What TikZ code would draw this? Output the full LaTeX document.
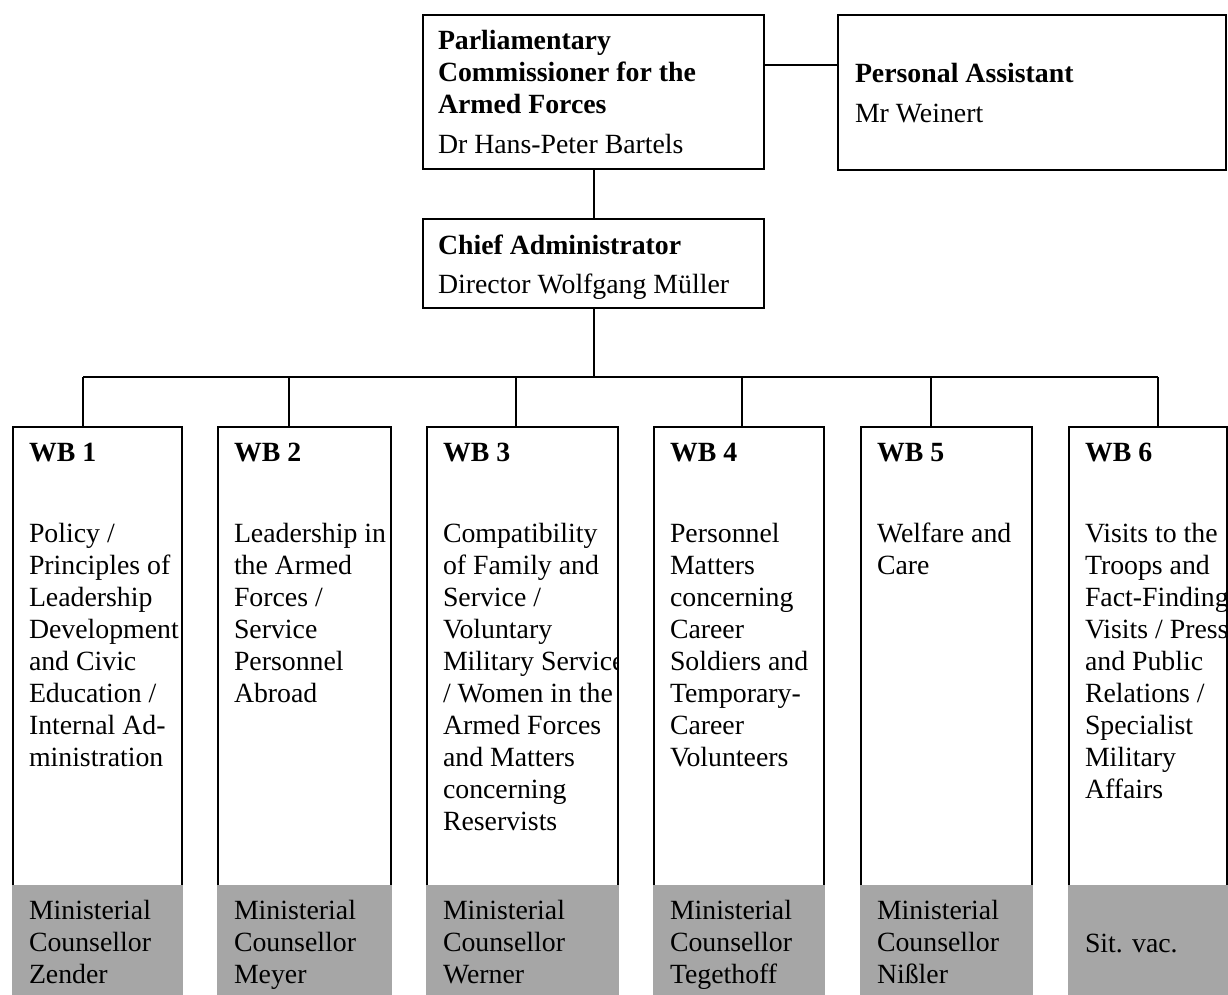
\documentclass[tikz,border=0pt]{standalone}
\usepackage{fontspec}
\setmainfont{Liberation Serif}
\definecolor{cellgray}{HTML}{A6A6A6}
\newcommand{\mylines}[1]{\begin{tabular}[t]{@{}l@{}}#1\end{tabular}}
\begin{document}
\begin{tikzpicture}[x=1pt,y=-1pt,line width=2pt,
  box/.style={draw, rectangle, inner sep=0pt, line width=2pt},
  graycell/.style={fill=cellgray, draw=none, rectangle, inner sep=0pt},
  txt/.style={anchor=base west, inner sep=0pt, font=\fontsize{27.8}{32}\selectfont},
  btxt/.style={anchor=base west, inner sep=0pt, font=\fontsize{27.8}{32}\selectfont\bfseries}]
\useasboundingbox (0,0) rectangle (1228,994);

% top level
\node[box, minimum width=341pt, minimum height=154pt] (parl) at (593.5,92) {};
\node[btxt] (parlT) at (437,49) {\mylines{Parliamentary\\Commissioner for the\\Armed Forces}};
\node[txt] (parlN) at (437,153) {Dr Hans-Peter Bartels};

\node[box, minimum width=388pt, minimum height=155pt] (pa) at (1032,92.5) {};
\node[btxt] (paT) at (854,82) {Personal Assistant};
\node[txt] (paN) at (854,122) {Mr Weinert};

\node[box, minimum width=341pt, minimum height=89pt] (chief) at (593.5,263.5) {};
\node[btxt] (chiefT) at (437,254) {Chief Administrator};
\node[txt] (chiefN) at (437,293) {Director Wolfgang Müller};

\coordinate (pc) at ([yshift=27pt]parl.east);
\draw (pc) -- (pc -| pa.west);
\draw (parl.south) -- (chief.north);

\coordinate (busL) at (83,377);
\coordinate (busR) at (1158,377);
\draw (chief.south) -- (chief.south |- busL);
\draw (busL) -- (busR);

% #1 name, #2 left, #3 right, #4 connector x, #5 heading, #6 body, #7 gray text, #8 gray baseline
\newcommand{\wbcol}[8]{%
  \begin{scope}
    \clip (#2,426) rectangle (#3,885);
    \node[btxt] (#1h) at (#2+16,461) {#5};
    \node[txt] (#1b) at (#2+16,542) {\mylines{#6}};
  \end{scope}
  \node[box, anchor=north west, minimum width={(#3-#2)*1pt}, minimum height=459pt] (#1) at (#2,426) {};
  \node[graycell, anchor=north west, minimum width={(#3-#2+2)*1pt}, minimum height=112pt] (#1g) at (#2-1,884) {};
  \node[txt] (#1gt) at (#2+16,#8) {\mylines{#7}};
  \coordinate (#1c) at (#4,377);
  \draw (#1c) -- (#1c |- #1.north);
}

\wbcol{wbA}{12}{181}{83}{WB 1}{Policy /\\Principles of\\Leadership\\Development\\and Civic\\Education /\\Internal Ad-\\ministration}{Ministerial\\Counsellor\\Zender}{919}
\wbcol{wbB}{217}{390}{289}{WB 2}{Leadership in\\the Armed\\Forces /\\Service\\Personnel\\Abroad}{Ministerial\\Counsellor\\Meyer}{919}
\wbcol{wbC}{426}{617}{516}{WB 3}{Compatibility\\of Family and\\Service /\\Voluntary\\Military Service\\/ Women in the\\Armed Forces\\and Matters\\concerning\\Reservists}{Ministerial\\Counsellor\\Werner}{919}
\wbcol{wbD}{653}{823}{742}{WB 4}{Personnel\\Matters\\concerning\\Career\\Soldiers and\\Temporary-\\Career\\Volunteers}{Ministerial\\Counsellor\\Tegethoff}{919}
\wbcol{wbE}{860}{1031}{931}{WB 5}{Welfare and\\Care}{Ministerial\\Counsellor\\Nißler}{919}
\wbcol{wbF}{1068}{1226}{1158}{WB 6}{Visits to the\\Troops and\\Fact-Finding\\Visits / Press\\and Public\\Relations /\\Specialist\\Military\\Affairs}{Sit. vac.}{952}
\end{tikzpicture}
\end{document}
